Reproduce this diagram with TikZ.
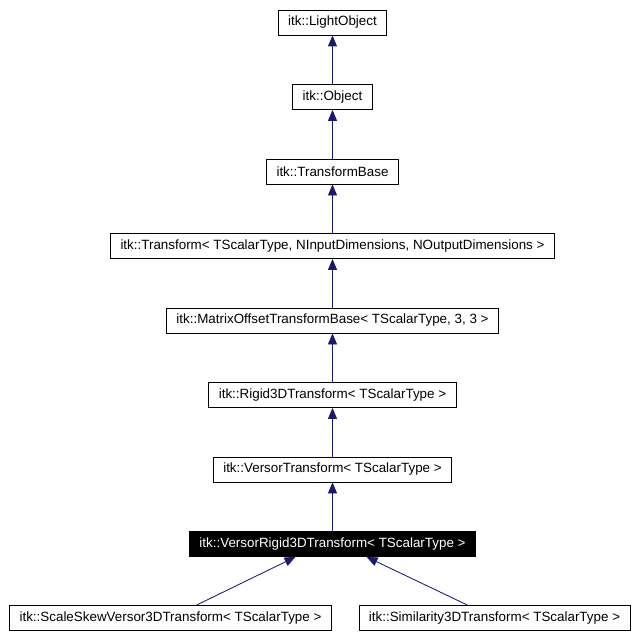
\documentclass[tikz,border=0pt]{standalone}
\usepackage{fontspec}
\setmainfont{Liberation Sans}
\usetikzlibrary{positioning, arrows.meta}
\definecolor{edgeblue}{RGB}{25,25,112}
\tikzset{
  cls/.style     = {draw, minimum height=25pt, inner xsep=10pt, inner ysep=0pt, line width=0.8pt, font=\fontsize{13.4}{15}\selectfont},
  current/.style = {cls, fill=black, text=white},
  inherit/.style = {-{Triangle[length=11pt, width=9pt]}, draw=edgeblue, fill=edgeblue, line width=0.8pt}
}

\begin{document}
\begin{tikzpicture}
  \useasboundingbox (0pt,0pt) rectangle (639pt,-639pt);
  \node[cls] (lightobj) at (332.5pt,-22.5pt) {itk::LightObject};
  \node[cls, below=48.7pt of lightobj]  (object)    {itk::Object};
  \node[cls, below=48.7pt of object]    (tbase)     {itk::TransformBase};
  \node[cls, below=48.7pt of tbase]     (transform) {itk::Transform< TScalarType, NInputDimensions, NOutputDimensions >};
  \node[cls, below=48.7pt of transform] (mobase)    {itk::MatrixOffsetTransformBase< TScalarType, 3, 3 >};
  \node[cls, below=48.7pt of mobase]    (rigid)     {itk::Rigid3DTransform< TScalarType >};
  \node[cls, below=48.7pt of rigid]     (versor)    {itk::VersorTransform< TScalarType >};
  \node[current, below=48.7pt of versor] (vrigid)   {itk::VersorRigid3DTransform< TScalarType >};
  \node[cls, below=48.2pt of vrigid, xshift=-162pt] (skew)       {itk::ScaleSkewVersor3DTransform< TScalarType >};
  \node[cls, below=48.2pt of vrigid, xshift=162pt]  (similarity) {itk::Similarity3DTransform< TScalarType >};
  \draw[inherit] (object)    -- (lightobj);
  \draw[inherit] (tbase)     -- (object);
  \draw[inherit] (transform) -- (tbase);
  \draw[inherit] (mobase)    -- (transform);
  \draw[inherit] (rigid)     -- (mobase);
  \draw[inherit] (versor)    -- (rigid);
  \draw[inherit] (vrigid)    -- (versor);
  \draw[inherit] ([xshift=26pt]skew.north) -- ([xshift=-37pt]vrigid.south);
  \draw[inherit] ([xshift=-27pt]similarity.north) -- ([xshift=34pt]vrigid.south);
\end{tikzpicture}
\end{document}
